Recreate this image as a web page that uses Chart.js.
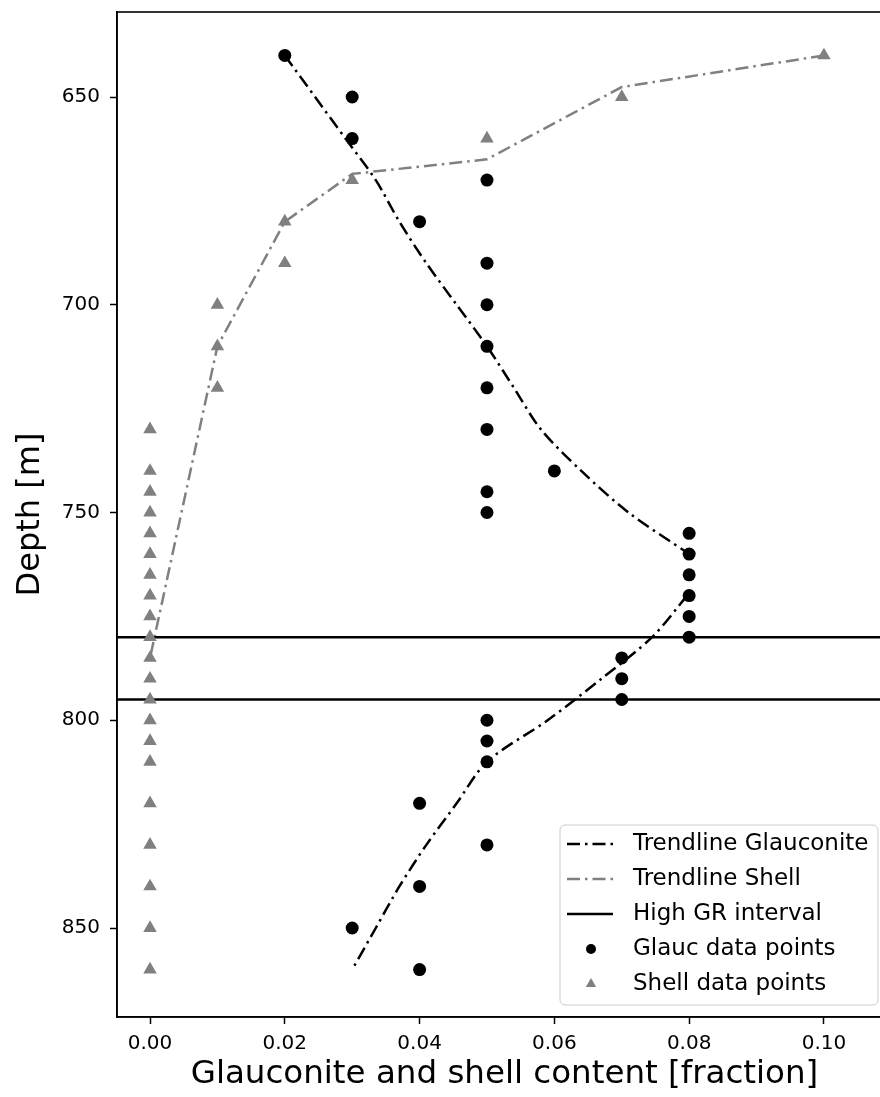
<!DOCTYPE html>
<html>
<head>
<meta charset="utf-8">
<script src="https://cdn.jsdelivr.net/npm/chart.js@4/dist/chart.umd.min.js"></script>
<style>
  html, body { margin: 0; padding: 0; background: #fff; overflow: hidden; }
  #wrap { width: 880px; height: 1097px; overflow: hidden; }
</style>
</head>
<body>
<div id="wrap"><canvas id="chart" width="892" height="1097"></canvas></div>
<script>
// sample depths (m) and measured contents (fraction)
var depths = [640, 650, 660, 670, 680, 690, 700, 710, 720, 730, 740, 745, 750, 755, 760,
              765, 770, 775, 780, 785, 790, 795, 800, 805, 810, 820, 830, 840, 850, 860];
var glauc = [0.02, 0.03, 0.03, 0.05, 0.04, 0.05, 0.05, 0.05, 0.05, 0.05, 0.06, 0.05, 0.05, 0.08, 0.08,
             0.08, 0.08, 0.08, 0.08, 0.07, 0.07, 0.07, 0.05, 0.05, 0.05, 0.04, 0.05, 0.04, 0.03, 0.04];
var shell = [0.10, 0.07, 0.05, 0.03, 0.02, 0.02, 0.01, 0.01, 0.01, 0, 0, 0, 0, 0, 0,
             0, 0, 0, 0, 0, 0, 0, 0, 0, 0, 0, 0, 0, 0, 0];

// glauconite trend, fitted above and below the high GR interval
var trendGlaucDepthTop = [640, 650, 660, 670, 680, 690, 700, 710, 720, 730, 740, 750, 760];
var trendGlaucTop = [0.020, 0.0245, 0.029, 0.0335, 0.037, 0.041, 0.0455, 0.050, 0.054, 0.058, 0.064, 0.071, 0.080];
var trendGlaucDepthBase = [770, 780, 790, 800, 810, 820, 830, 840, 850, 860];
var trendGlaucBase = [0.0797, 0.0745, 0.067, 0.059, 0.050, 0.0455, 0.041, 0.037, 0.0335, 0.030];

// shell trend
var trendShellDepth = [640, 647.6, 665, 668.5, 680, 710, 785];
var trendShell = [0.10, 0.07, 0.05, 0.03, 0.02, 0.01, 0.0];

// high GR interval (m)
var grTop = 780;
var grBase = 795;

var xTicks = [0, 0.02, 0.04, 0.06, 0.08, 0.10];
var yTicks = [650, 700, 750, 800, 850];
var xMin = -0.0049, xMax = 0.1101;
var yMin = 629.54, yMax = 871.42;

function pairs(xs, ys) {
    var out = [];
    for (var i = 0; i < xs.length; i++) {
        out.push({ x: xs[i], y: ys[i] });
    }
    return out;
}

var dashDot = [13, 5, 2.5, 5];

var datasets = [
    {
        label: 'Trendline Glauconite',
        data: pairs(trendGlaucTop, trendGlaucDepthTop),
        showLine: true, borderColor: '#000', borderWidth: 2.5, borderDash: dashDot,
        tension: 0.3, pointRadius: 0, order: 3, legendKind: 'line'
    },
    {
        label: 'Trendline Glauconite',
        data: pairs(trendGlaucBase, trendGlaucDepthBase),
        showLine: true, borderColor: '#000', borderWidth: 2.5, borderDash: dashDot,
        tension: 0.3, pointRadius: 0, order: 3, legendKind: 'none'
    },
    {
        label: 'Trendline Shell',
        data: pairs(trendShell, trendShellDepth),
        showLine: true, borderColor: '#808080', borderWidth: 2.5, borderDash: dashDot,
        pointRadius: 0, order: 3, legendKind: 'line'
    },
    {
        label: 'High GR interval',
        data: [{ x: xMin, y: grTop }, { x: xMax, y: grTop }],
        showLine: true, borderColor: '#000', borderWidth: 2.5,
        pointRadius: 0, order: 2, legendKind: 'line'
    },
    {
        label: 'High GR interval',
        data: [{ x: xMin, y: grBase }, { x: xMax, y: grBase }],
        showLine: true, borderColor: '#000', borderWidth: 2.5,
        pointRadius: 0, order: 2, legendKind: 'none'
    },
    {
        label: 'Glauc data points',
        data: pairs(glauc, depths),
        showLine: false, pointStyle: 'circle', pointRadius: 6.5,
        backgroundColor: '#000', borderColor: '#000', borderWidth: 0,
        order: 0, legendKind: 'marker'
    },
    {
        label: 'Shell data points',
        data: pairs(shell, depths),
        showLine: false, pointStyle: 'triangle', pointRadius: 7.8,
        backgroundColor: '#808080', borderColor: '#808080', borderWidth: 0,
        order: 1, legendKind: 'marker'
    }
];

// axes frame on all four sides
var framePlugin = {
    id: 'frame',
    afterDatasetsDraw: function(chart) {
        var a = chart.chartArea, ctx = chart.ctx;
        ctx.save();
        ctx.strokeStyle = '#000';
        ctx.lineWidth = 1.6;
        ctx.strokeRect(a.left, a.top, a.right - a.left, a.bottom - a.top);
        ctx.restore();
    }
};

// legend box in the lower right corner
var legendPlugin = {
    id: 'boxLegend',
    afterDraw: function(chart) {
        var ctx = chart.ctx, a = chart.chartArea;
        var items = chart.data.datasets.filter(function(d) { return d.legendKind !== 'none'; });
        var w = 318, h = 180;
        var x0 = a.right - 14 - w, y0 = a.bottom - 12 - h;
        ctx.save();
        ctx.beginPath();
        ctx.roundRect(x0, y0, w, h, 5);
        ctx.fillStyle = 'rgba(255,255,255,0.8)';
        ctx.fill();
        ctx.strokeStyle = '#cccccc';
        ctx.lineWidth = 1;
        ctx.stroke();
        ctx.font = '23px "DejaVu Sans"';
        ctx.textBaseline = 'middle';
        for (var i = 0; i < items.length; i++) {
            var d = items[i];
            var cy = y0 + 19 + i * 35;
            if (d.legendKind === 'line') {
                ctx.beginPath();
                ctx.setLineDash(d.borderDash || []);
                ctx.strokeStyle = d.borderColor;
                ctx.lineWidth = d.borderWidth;
                ctx.moveTo(x0 + 7, cy);
                ctx.lineTo(x0 + 53, cy);
                ctx.stroke();
                ctx.setLineDash([]);
            } else {
                ctx.fillStyle = d.backgroundColor;
                ctx.beginPath();
                if (d.pointStyle === 'circle') {
                    ctx.arc(x0 + 31, cy, 5, 0, Math.PI * 2);
                } else {
                    ctx.moveTo(x0 + 31, cy - 6);
                    ctx.lineTo(x0 + 31 + 5.2, cy + 3);
                    ctx.lineTo(x0 + 31 - 5.2, cy + 3);
                    ctx.closePath();
                }
                ctx.fill();
            }
            ctx.fillStyle = '#000';
            ctx.fillText(d.label, x0 + 73, cy);
        }
        ctx.restore();
    }
};

var ctx = document.getElementById('chart').getContext('2d');
var chart = new Chart(ctx, {
    type: 'scatter',
    data: { datasets: datasets },
    options: {
        responsive: false,
        animation: false,
        devicePixelRatio: 1,
        layout: { autoPadding: false, padding: { top: 12, right: 0, left: 0, bottom: 0 } },
        plugins: {
            legend: { display: false },
            tooltip: { enabled: false }
        },
        scales: {
            x: {
                type: 'linear',
                min: xMin,
                max: xMax,
                afterBuildTicks: function(scale) {
                    scale.ticks = xTicks.map(function(v) { return { value: v }; });
                },
                afterFit: function(scale) {
                    scale.height = 80;
                    scale.paddingLeft = 0;
                    scale.paddingRight = 0;
                },
                ticks: {
                    color: '#000',
                    font: { family: 'DejaVu Sans', size: 20 },
                    padding: 8,
                    maxRotation: 0,
                    autoSkip: false,
                    callback: function(v) { return v.toFixed(2); }
                },
                grid: { drawOnChartArea: false, tickLength: 7, tickColor: '#000', tickWidth: 1.5 },
                border: { display: true, color: '#000', width: 1.6 },
                title: {
                    display: true,
                    text: 'Glauconite and shell content [fraction]',
                    color: '#000',
                    font: { family: 'DejaVu Sans', size: 32.5 },
                    padding: { top: 0, bottom: 3 }
                }
            },
            y: {
                type: 'linear',
                reverse: true,
                min: yMin,
                max: yMax,
                afterBuildTicks: function(scale) {
                    scale.ticks = yTicks.map(function(v) { return { value: v }; });
                },
                afterFit: function(scale) {
                    scale.width = 117;
                    scale.paddingTop = 0;
                    scale.paddingBottom = 0;
                },
                ticks: {
                    color: '#000',
                    font: { family: 'DejaVu Sans', size: 20 },
                    padding: 10,
                    autoSkip: false,
                    callback: function(v) { return String(v); }
                },
                grid: { drawOnChartArea: false, tickLength: 7, tickColor: '#000', tickWidth: 1.5 },
                border: { display: true, color: '#000', width: 1.6 },
                title: {
                    display: true,
                    text: 'Depth [m]',
                    color: '#000',
                    font: { family: 'DejaVu Sans', size: 32 },
                    padding: { top: 11, bottom: 0 }
                }
            }
        }
    },
    plugins: [framePlugin, legendPlugin]
});
</script>
</body>
</html>
